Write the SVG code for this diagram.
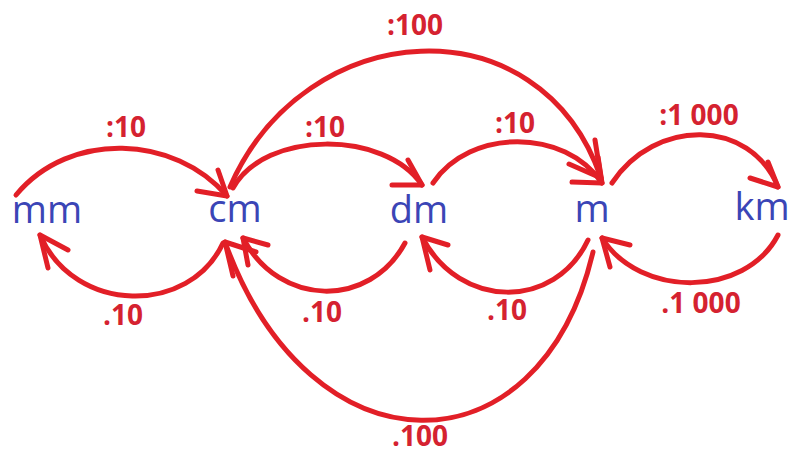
<svg xmlns="http://www.w3.org/2000/svg" width="791" height="454" viewBox="0 0 791 454">
<style>
.bg{fill:#ffffff}
.unit{font-family:"Open Sans","Liberation Sans",sans-serif;font-size:38px;fill:#3b45b6;text-anchor:middle}
.lbl{font-family:"Open Sans","Liberation Sans",sans-serif;font-size:28px;font-weight:bold;fill:#d52230;text-anchor:middle}
.arc{fill:none;stroke:#e21f27;stroke-width:5;stroke-linecap:round;stroke-linejoin:round}
</style>
<rect class="bg" x="0" y="0" width="791" height="454"/>
<g id="connectors">
  <!-- top arrows -->
  <path class="arc" d="M16,195 C70,130 175,135 227,196"/>
  <polyline class="arc" points="218,170 227,196 197,191"/>
  <path class="arc" d="M233,188 C265,130 385,130 422,185"/>
  <polyline class="arc" points="408,160 422,185 392,185"/>
  <path class="arc" d="M433,183 C470,128 565,128 602,183"/>
  <polyline class="arc" points="598,157 602,183 572,182"/>
  <path class="arc" d="M230,187 C305,15 540,0 601,178"/>
  <polyline class="arc" points="595,140 601,178 569,164"/>
  <path class="arc" d="M612,183 C655,118 750,118 778,187"/>
  <polyline class="arc" points="768,162 778,187 750,178"/>
  <!-- bottom arrows -->
  <path class="arc" d="M223,243 C190,315 75,315 40,235"/>
  <polyline class="arc" points="68,250 40,235 48,268"/>
  <path class="arc" d="M405,243 C370,308 280,308 243,238"/>
  <polyline class="arc" points="268,245 243,238 248,265"/>
  <path class="arc" d="M588,240 C555,310 460,310 422,237"/>
  <polyline class="arc" points="448,245 422,237 430,270"/>
  <path class="arc" d="M593,252 C540,478 310,478 225,242"/>
  <polyline class="arc" points="256,252 225,242 233,276"/>
  <path class="arc" d="M778,235 C745,298 640,298 602,238"/>
  <polyline class="arc" points="630,245 602,238 610,267"/>
  <!-- labels -->
  <text class="lbl" x="126" y="137">:10</text>
  <text class="lbl" x="325" y="137">:10</text>
  <text class="lbl" x="515" y="133">:10</text>
  <text class="lbl" x="415" y="35">:100</text>
  <text class="lbl" x="699" y="125">:1 000</text>
  <text class="lbl" x="123" y="325">.10</text>
  <text class="lbl" x="322" y="322">.10</text>
  <text class="lbl" x="507" y="320">.10</text>
  <text class="lbl" x="420" y="446">.100</text>
  <text class="lbl" x="701" y="313">.1 000</text>
</g>
<g id="node-mm"><text class="unit" x="47" y="223">mm</text></g>
<g id="node-cm"><text class="unit" x="235" y="222">cm</text></g>
<g id="node-dm"><text class="unit" x="419" y="223">dm</text></g>
<g id="node-m"><text class="unit" x="592" y="222">m</text></g>
<g id="node-km"><text class="unit" x="762" y="220">km</text></g>
</svg>
